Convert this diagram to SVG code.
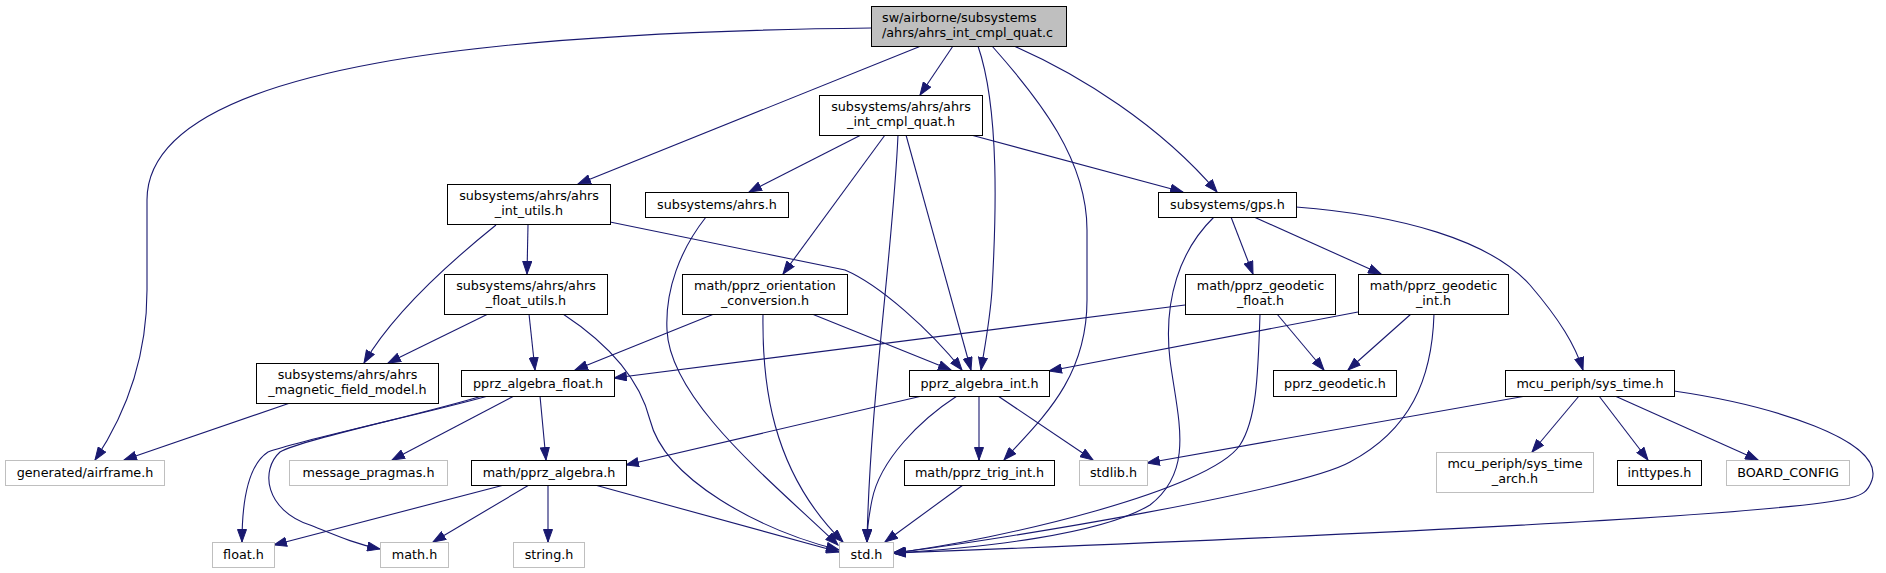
<svg xmlns="http://www.w3.org/2000/svg" width="1886" height="573" viewBox="0 0 1886 573">
<style>
.n rect{fill:#fff;stroke:#000;stroke-width:1}
.n.g rect{stroke:#bfbfbf}
.n.root rect{fill:#bfbfbf;stroke:#000}
.n text{font-family:"DejaVu Sans",sans-serif;font-size:12.75px;fill:#000;text-anchor:middle}
.n.root text{text-anchor:start}
#edges path{fill:none;stroke:#191970;stroke-width:1.1;marker-end:url(#a)}
</style>
<defs>
<marker id="a" markerWidth="14" markerHeight="10" refX="13" refY="5" orient="auto" markerUnits="userSpaceOnUse">
<path d="M0.5,0.5 L13,5 L0.5,9.5 z" fill="#191970" stroke="#191970" stroke-width="1"/>
</marker>
</defs>
<rect width="1886" height="573" fill="#fff"/>
<g id="edges">
<path d="M871,28 C520,32 147,60 147,200 L147,290 C147,360 125,415 95,460"/>
<path d="M921,46 L578,184"/>
<path d="M953,46 L920,95"/>
<path d="M978,46 C1000,110 996,220 992,290 C990,320 985,345 981,370"/>
<path d="M992,46 C1040,100 1087,160 1087,230 L1087,300 C1087,380 1040,420 1004,460"/>
<path d="M1014,46 C1080,75 1160,125 1217,192"/>
<path d="M861,135 L749,192"/>
<path d="M885,135 L783,274"/>
<path d="M898,135 C893,250 870,400 867,542"/>
<path d="M906,135 L971,370"/>
<path d="M971,135 L1183,192"/>
<path d="M496,225 C455,258 395,310 364,363"/>
<path d="M528,225 L527,274"/>
<path d="M610,222 L845,270 C880,285 930,330 962,370"/>
<path d="M706,217 C680,250 665,290 667,330 C670,400 770,480 838,545"/>
<path d="M1214,217 C1180,250 1163,300 1170,360 C1178,420 1195,470 1150,505 C1100,535 980,548 893,553"/>
<path d="M1231,217 L1253,274"/>
<path d="M1254,217 L1381,274"/>
<path d="M1296,207 C1400,215 1490,240 1530,285 C1560,320 1575,345 1583,370"/>
<path d="M488,314 L388,363"/>
<path d="M529,314 L535,370"/>
<path d="M563,314 C610,345 640,380 650,420 C665,480 760,530 839,550"/>
<path d="M714,314 L575,370"/>
<path d="M763,314 C762,380 770,470 843,542"/>
<path d="M812,314 L951,370"/>
<path d="M1185,305 L614,378"/>
<path d="M1277,314 L1324,370"/>
<path d="M1260,314 C1258,380 1256,420 1240,445 C1210,490 1000,540 893,553"/>
<path d="M1358,312 L1049,371"/>
<path d="M1411,314 L1348,370"/>
<path d="M1434,314 C1432,380 1410,430 1350,462 C1300,490 1000,540 893,553"/>
<path d="M290,403 L124,460"/>
<path d="M488,396 C420,415 300,440 268,452 C248,465 242,500 242,542"/>
<path d="M482,396 C420,415 300,440 280,452 C260,470 265,510 310,525 C335,535 355,544 380,549"/>
<path d="M514,396 L392,460"/>
<path d="M540,396 L546,460"/>
<path d="M922,396 L626,465"/>
<path d="M957,396 C920,420 880,460 872,500 C868,520 867,530 867,542"/>
<path d="M979,396 L979,460"/>
<path d="M998,396 L1093,460"/>
<path d="M504,485 L274,545"/>
<path d="M529,485 L433,542"/>
<path d="M548,485 L548,542"/>
<path d="M595,485 L839,552"/>
<path d="M963,485 L885,542"/>
<path d="M1526,396 L1147,463"/>
<path d="M1579,396 L1532,452"/>
<path d="M1599,396 L1648,460"/>
<path d="M1615,396 L1758,460"/>
<path d="M1674,391 C1770,405 1885,440 1872,480 C1868,492 1862,495 1850,498 C1760,520 1100,545 893,553"/>
</g>
<g id="root" class="n root"><rect x="871.5" y="6.5" width="195" height="40"/><text x="882" y="22">sw/airborne/subsystems</text><text x="882" y="37">/ahrs/ahrs_int_cmpl_quat.c</text></g>
<g id="cmpl_quat_h" class="n"><rect x="819.5" y="95.5" width="163" height="40"/><text x="901" y="111">subsystems/ahrs/ahrs</text><text x="901" y="126">_int_cmpl_quat.h</text></g>
<g id="int_utils" class="n"><rect x="447.5" y="184.5" width="163" height="40"/><text x="529" y="200">subsystems/ahrs/ahrs</text><text x="529" y="215">_int_utils.h</text></g>
<g id="ahrs_h" class="n"><rect x="645.5" y="192.5" width="143" height="25"/><text x="717" y="209">subsystems/ahrs.h</text></g>
<g id="gps_h" class="n"><rect x="1158.5" y="192.5" width="138" height="25"/><text x="1227.5" y="209">subsystems/gps.h</text></g>
<g id="float_utils" class="n"><rect x="444.5" y="274.5" width="163" height="40"/><text x="526" y="290">subsystems/ahrs/ahrs</text><text x="526" y="305">_float_utils.h</text></g>
<g id="orientation" class="n"><rect x="682.5" y="274.5" width="165" height="40"/><text x="765" y="290">math/pprz_orientation</text><text x="765" y="305">_conversion.h</text></g>
<g id="geo_float" class="n"><rect x="1185.5" y="274.5" width="150" height="40"/><text x="1260.5" y="290">math/pprz_geodetic</text><text x="1260.5" y="305">_float.h</text></g>
<g id="geo_int" class="n"><rect x="1358.5" y="274.5" width="150" height="40"/><text x="1433.5" y="290">math/pprz_geodetic</text><text x="1433.5" y="305">_int.h</text></g>
<g id="magnetic" class="n"><rect x="256.5" y="363.5" width="182" height="40"/><text x="347.5" y="379">subsystems/ahrs/ahrs</text><text x="347.5" y="394">_magnetic_field_model.h</text></g>
<g id="alg_float" class="n"><rect x="461.5" y="370.5" width="153" height="26"/><text x="538" y="388">pprz_algebra_float.h</text></g>
<g id="alg_int" class="n"><rect x="909.5" y="370.5" width="140" height="26"/><text x="979.5" y="388">pprz_algebra_int.h</text></g>
<g id="pprz_geodetic" class="n"><rect x="1273.5" y="370.5" width="123" height="26"/><text x="1335" y="388">pprz_geodetic.h</text></g>
<g id="sys_time" class="n"><rect x="1505.5" y="370.5" width="169" height="26"/><text x="1590" y="388">mcu_periph/sys_time.h</text></g>
<g id="airframe" class="n g"><rect x="5.5" y="460.5" width="159" height="25"/><text x="85" y="477">generated/airframe.h</text></g>
<g id="msg_pragmas" class="n g"><rect x="289.5" y="460.5" width="158" height="25"/><text x="368.5" y="477">message_pragmas.h</text></g>
<g id="pprz_algebra" class="n"><rect x="471.5" y="460.5" width="155" height="25"/><text x="549" y="477">math/pprz_algebra.h</text></g>
<g id="trig_int" class="n"><rect x="904.5" y="460.5" width="150" height="25"/><text x="979.5" y="477">math/pprz_trig_int.h</text></g>
<g id="stdlib" class="n g"><rect x="1079.5" y="460.5" width="68" height="25"/><text x="1113.5" y="477">stdlib.h</text></g>
<g id="sys_time_arch" class="n g"><rect x="1436.5" y="452.5" width="157" height="40"/><text x="1515" y="468">mcu_periph/sys_time</text><text x="1515" y="483">_arch.h</text></g>
<g id="inttypes" class="n"><rect x="1617.5" y="460.5" width="84" height="25"/><text x="1659.5" y="477">inttypes.h</text></g>
<g id="board_config" class="n g"><rect x="1726.5" y="460.5" width="123" height="25"/><text x="1788" y="477">BOARD_CONFIG</text></g>
<g id="float_h" class="n g"><rect x="212.5" y="542.5" width="62" height="25"/><text x="243.5" y="559">float.h</text></g>
<g id="math_h" class="n g"><rect x="380.5" y="542.5" width="68" height="25"/><text x="414.5" y="559">math.h</text></g>
<g id="string_h" class="n g"><rect x="513.5" y="542.5" width="71" height="25"/><text x="549" y="559">string.h</text></g>
<g id="std_h" class="n g"><rect x="839.5" y="542.5" width="54" height="25"/><text x="866.5" y="559">std.h</text></g>
</svg>
